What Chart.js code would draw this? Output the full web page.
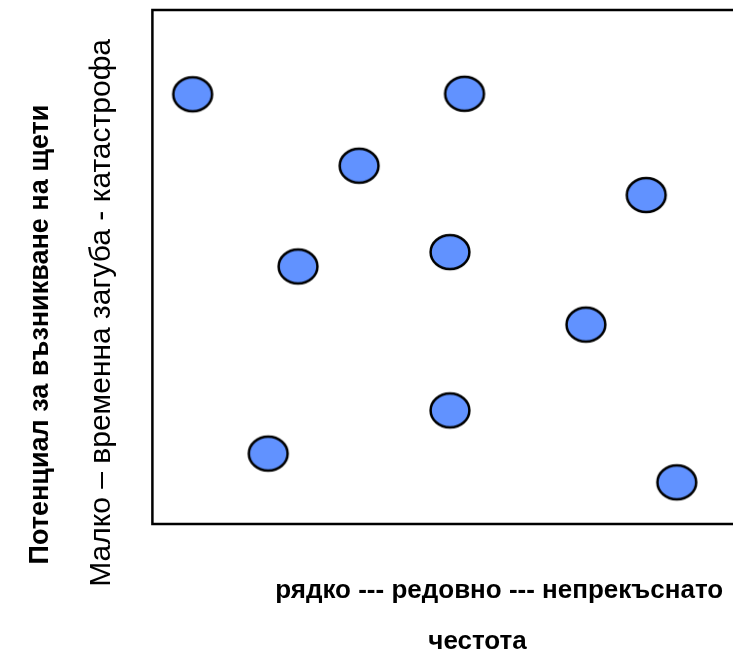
<!DOCTYPE html>
<html>
<head>
<meta charset="utf-8">
<script src="https://cdn.jsdelivr.net/npm/chart.js@4/dist/chart.umd.min.js"></script>
<style>
    html, body { margin: 0; padding: 0; background: #fff; overflow: hidden; }
    #wrap { width: 733px; height: 652px; overflow: hidden; }
</style>
</head>
<body>
<div id="wrap">
    <canvas id="riskChart" width="850" height="680"></canvas>
</div>
<script>
// Risk map data (frequency vs damage potential, 0-100 scale)
const frequency = [5.8, 45.0, 29.8, 71.2, 21.0, 42.9, 62.5, 42.9, 16.7, 75.6];
const damage = [83.6, 83.7, 69.7, 64.0, 50.1, 52.9, 38.8, 22.1, 13.7, 8.1];

// the titles are not centred on the plot in the original; trailing spaces shift them
const padRight = n => ' '.repeat(n);

const xTitleLines = ['рядко --- редовно --- непрекъснато', 'честота' + padRight(6)];
const yTitleInner = 'Малко – временна загуба - катастрофа';
const yTitleOuter = 'Потенциал за възникване на щети';

const FONT = 'Liberation Sans, Arial, sans-serif';

// ellipse marker used as point style
function makeEllipse() {
    const c = document.createElement('canvas');
    c.width = 44;
    c.height = 40;
    const g = c.getContext('2d');
    g.beginPath();
    g.ellipse(22, 20, 19.4, 17, 0, 0, Math.PI * 2);
    g.fillStyle = '#6192FF';
    g.fill();
    g.lineWidth = 2.5;
    g.strokeStyle = '#000';
    g.stroke();
    return c;
}

// black frame around plot area
const framePlugin = {
    id: 'frame',
    afterDraw(chart) {
        const a = chart.chartArea;
        const ctx = chart.ctx;
        ctx.save();
        ctx.lineWidth = 2.5;
        ctx.strokeStyle = '#000';
        ctx.strokeRect(a.left, a.top, a.right - a.left, a.bottom - a.top);
        ctx.restore();
    }
};

const points = frequency.map((f, i) => ({ x: f, y: damage[i] }));
const hidden = { display: false };

new Chart(document.getElementById('riskChart'), {
    type: 'scatter',
    data: {
        datasets: [{
            data: points,
            pointStyle: makeEllipse(),
            pointRadius: 20,
            pointHoverRadius: 20
        }]
    },
    options: {
        responsive: false,
        animation: false,
        events: [],
        layout: { autoPadding: false, padding: { top: 10, right: 4, left: 0, bottom: 0 } },
        plugins: { legend: hidden, tooltip: { enabled: false } },
        scales: {
            x: {
                type: 'linear',
                min: 0,
                max: 100,
                ticks: hidden,
                grid: { display: false, drawTicks: false },
                border: { display: false },
                title: {
                    display: true,
                    text: xTitleLines,
                    color: '#000',
                    font: { family: FONT, size: 26, weight: 'bold', lineHeight: '51px' },
                    padding: { top: 41, bottom: 13 }
                }
            },
            y: {
                type: 'linear',
                min: 0,
                max: 100,
                weight: 1,
                ticks: hidden,
                grid: { display: false, drawTicks: false },
                border: { display: false },
                title: {
                    display: true,
                    text: yTitleInner + padRight(11),
                    color: '#000',
                    font: { family: FONT, size: 30, weight: 'normal' },
                    padding: { top: 19, bottom: 33 }
                }
            },
            y2: {
                type: 'linear',
                position: 'left',
                min: 0,
                max: 100,
                weight: 2,
                ticks: hidden,
                grid: { display: false, drawTicks: false },
                border: { display: false },
                title: {
                    display: true,
                    text: yTitleOuter + padRight(18),
                    color: '#000',
                    font: { family: FONT, size: 27, weight: 'bold' },
                    padding: { top: 24, bottom: 8 }
                }
            }
        }
    },
    plugins: [framePlugin]
});
</script>
</body>
</html>
